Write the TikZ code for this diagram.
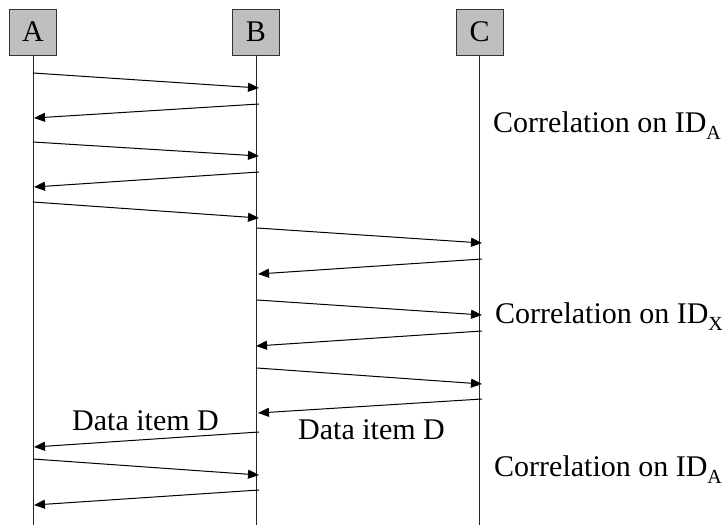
\documentclass[tikz,border=0pt]{standalone}
\usepackage{fontspec}
\setmainfont{Liberation Serif}
\usetikzlibrary{arrows.meta}
\newcommand{\idsub}[1]{{\fontsize{20}{20}\selectfont\raisebox{-7pt}{#1}}}
\tikzset{
  lifebox/.style={draw=black!80, fill=black!25, line width=0.8pt, minimum width=47pt, minimum height=46pt, inner sep=0pt, font=\fontsize{30}{30}\selectfont},
  lifeline/.style={draw=black!85, line width=1pt},
  msg/.style={draw=black, line width=1pt, -{Triangle[length=11pt,width=9pt]}},
  lbl/.style={anchor=base west, inner sep=0pt, font=\fontsize{30}{30}\selectfont}
}
\begin{document}
\begin{tikzpicture}[x=1pt,y=-1pt]
\useasboundingbox (0,0) rectangle (725,525);
\node[lifebox] (A) at (33,32) {A};
\node[lifebox] (B) at (256,32) {B};
\node[lifebox] (C) at (479.5,32) {C};
\coordinate (Aend) at (33,525);
\coordinate (Bend) at (256,525);
\coordinate (Cend) at (479.5,525);
\draw[lifeline] (A.south) -- (Aend);
\draw[lifeline] (B.south) -- (Bend);
\draw[lifeline] (C.south) -- (Cend);
% messages: index/from x/from y/to x/to y
\foreach \i/\xa/\ya/\xb/\yb in {
  1/33/73/259/88,
  2/259/104/34/118,
  3/33/142/259/156,
  4/259/172/34/187,
  5/33/202/259/218,
  6/257/228/482/243,
  7/482/259/258/274,
  8/257/300/482/315,
  9/482/331/256/346,
  10/257/368/482/384,
  11/482/399/258/413,
  12/259/432/34/447,
  13/33/459/259/475,
  14/259/490/34/505} {
  \coordinate (m\i s) at (\xa,\ya);
  \coordinate (m\i e) at (\xb,\yb);
  \draw[msg] (m\i s) -- (m\i e);
}
\node[lbl] (corrA1) at (493,132.5) {Correlation on ID\idsub{A}};
\node[lbl] (corrX) at (495,323) {Correlation on ID\idsub{X}};
\node[lbl] (corrA2) at (494,476.5) {Correlation on ID\idsub{A}};
\node[lbl] (dataL) at (72,430) {Data item D};
\node[lbl] (dataR) at (298,439) {Data item D};
\end{tikzpicture}
\end{document}
